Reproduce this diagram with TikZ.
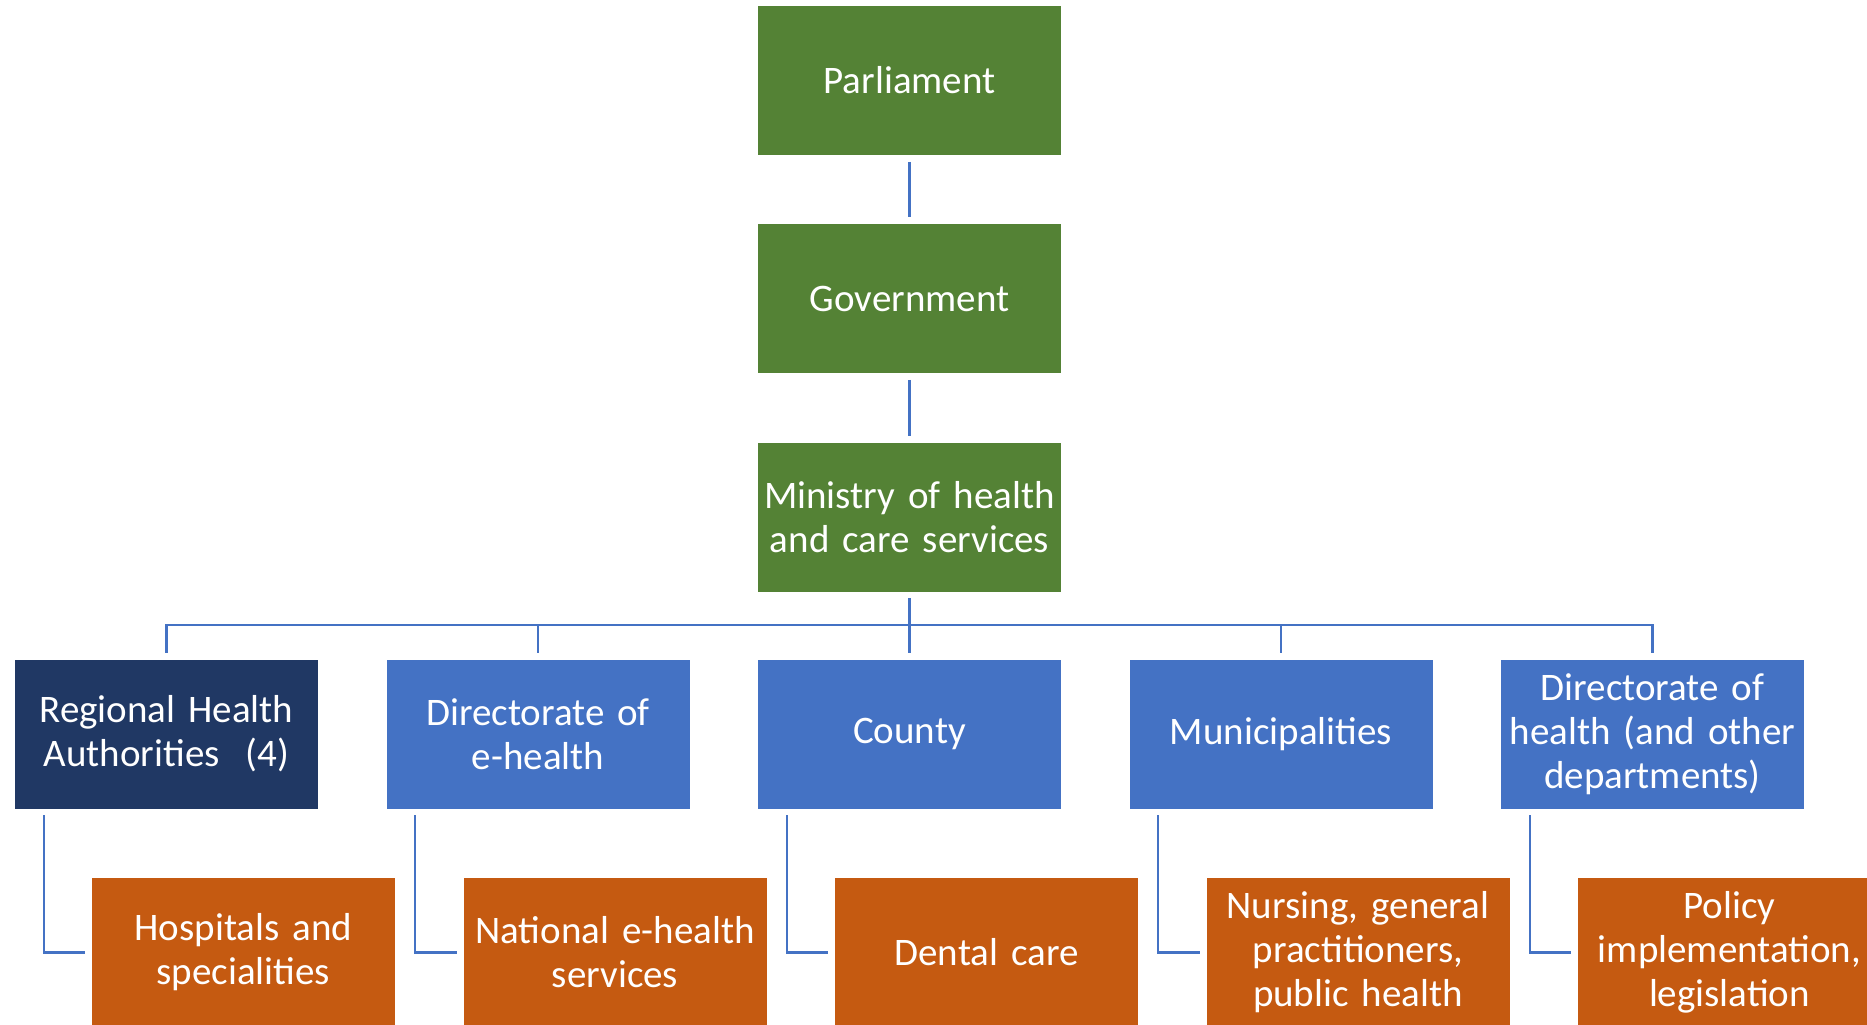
\documentclass[tikz,border=0pt]{standalone}
\usepackage{fontspec}
\setmainfont{Carlito}
\usetikzlibrary{calc}
\definecolor{cgreen}{HTML}{548235}
\definecolor{cnavy}{HTML}{203864}
\definecolor{cblue}{HTML}{4472C4}
\definecolor{corange}{HTML}{C55A11}
\tikzset{
  box/.style={rectangle, inner sep=0pt, minimum width=152pt, minimum height=75pt,
    text width=150pt, align=center, text=white, draw=white, line width=0.4pt,
    font=\fontsize{19.5}{22}\selectfont},
  greenbox/.style={box, fill=cgreen},
  navybox/.style={box, fill=cnavy},
  bluebox/.style={box, fill=cblue},
  orangebox/.style={box, fill=corange},
  conn/.style={draw=cblue, line width=1.1pt}
}
\begin{document}
\begin{tikzpicture}[x=0.5pt,y=-0.5pt]
\useasboundingbox (0,0) rectangle (1867,1024);
\clip (0,0) rectangle (1867,1024);
% top chain
\node[greenbox] (par) at (909.5,80.5) {Parliament};
\node[greenbox] (gov) at (909.5,298.5) {Government};
\node[greenbox] (min) at (909.5,517) {Ministry of health\\and care services};
% second row
\node[navybox] (rha) at (166.5,734) {Regional Health\\Authorities\ \ (4)};
\node[bluebox] (deh) at (538,734) {Directorate of\\e-health};
\node[bluebox] (cty) at (909.5,734) {County};
\node[bluebox] (mun) at (1281,734) {Municipalities};
\node[bluebox] (dhe) at (1652.5,734) {Directorate of\\health (and other\\departments)};
% third row
\node[orangebox] (hos) at (243.5,952.5) {Hospitals and\\specialities};
\node[orangebox] (neh) at (615,952.5) {National e-health\\services};
\node[orangebox] (den) at (986.5,952.5) {Dental care};
\node[orangebox] (nur) at (1358,952.5) {Nursing, general\\practitioners,\\public health};
\node[orangebox] (pol) at (1729.5,952.5) {Policy\\implementation,\\legislation};
% connectors
\coordinate (busy) at (0,625);
\draw[conn, shorten <=3pt, shorten >=3pt] (par.south) -- (gov.north);
\draw[conn, shorten <=3pt, shorten >=3pt] (gov.south) -- (min.north);
\foreach \n in {rha,deh,cty,mun,dhe}{
  \draw[conn, shorten <=3pt, shorten >=3pt] (min.south) |- (\n.north |- busy) -- (\n.north);
}
\foreach \p/\c in {rha/hos,deh/neh,cty/den,mun/nur,dhe/pol}{
  \coordinate (e\p) at ($(\p.south west)+(29.5,0)$);
  \draw[conn, shorten <=3pt, shorten >=3pt] (e\p) |- (\c.west);
}
\end{tikzpicture}
\end{document}
